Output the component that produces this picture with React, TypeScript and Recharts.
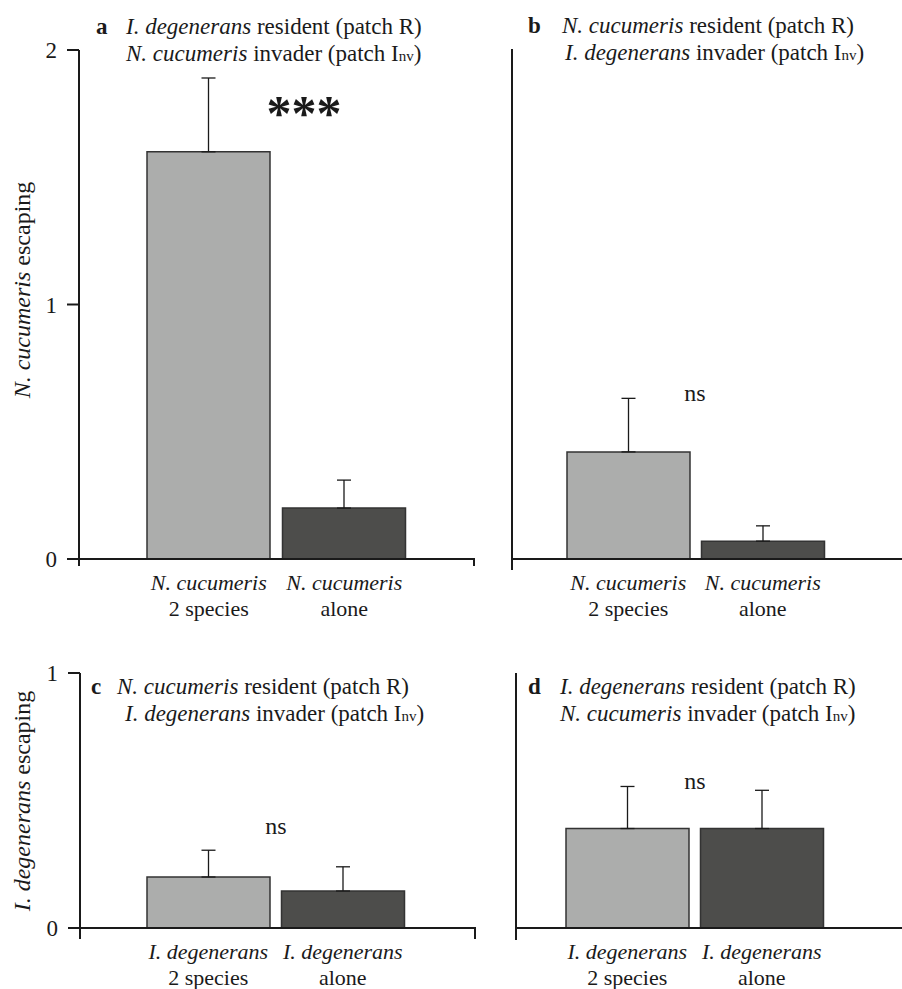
import React from 'react';
import { BarChart, Bar, XAxis, YAxis, Cell, ErrorBar, ReferenceLine } from 'recharts';

const FONT = '"Liberation Serif", "Times New Roman", Times, serif';
const INK = '#1a1a1a';
const BAR_COLORS = ['#acadac', '#4d4d4b'];

// x categories
const groups = ['2 species', 'alone'];
const nCucumeris = ['N. cucumeris', 'N. cucumeris'];
const iDegenerans = ['I. degenerans', 'I. degenerans'];

// means and upper standard errors
const meansA = [1.6, 0.2];
const errA = [0.29, 0.11];
const meansB = [0.42, 0.07];
const errB = [0.21, 0.06];
const meansC = [0.2, 0.145];
const errC = [0.105, 0.095];
const meansD = [0.39, 0.39];
const errD = [0.165, 0.15];

const ticksTop = [0, 1, 2];
const ticksBottom = [0, 1];

type Box = { left: number; top: number; width: number; height: number };

interface PanelCfg {
  box: Box;
  axisX: number;
  topY: number;
  zeroY: number;
  ext: number;
  endX: number;
  endTick: boolean;
  max: number;
  ticks: number[];
  tickLabels: boolean;
  padL: number;
  padR: number;
  species: string[];
  means: number[];
  errs: number[];
  letter: string;
  letterX: number;
  line1: [string, string];
  line2: [string, string];
  line1X: number;
  line2X: number;
  titleY: number;
  yLabel?: [string, string];
  yLabelY?: number;
  note: string;
  noteX: number;
  noteY: number;
  noteBig?: boolean;
}

const panels: PanelCfg[] = [
  {
    box: { left: 0, top: 0, width: 480, height: 640 },
    axisX: 79, topY: 50, zeroY: 559, ext: 7, endX: 474, endTick: true,
    max: 2, ticks: ticksTop, tickLabels: true, padL: 62, padR: 62,
    species: nCucumeris, means: meansA, errs: errA,
    letter: 'a', letterX: 96,
    line1: ['I. degenerans', ' resident (patch R)'],
    line2: ['N. cucumeris', ' invader (patch I'],
    line1X: 126, line2X: 126, titleY: 34,
    yLabel: ['N. cucumeris', ' escaping'], yLabelY: 290,
    note: '***', noteX: 304, noteY: 130, noteBig: true,
  },
  {
    box: { left: 440, top: 0, width: 462, height: 640 },
    axisX: 512, topY: 49, zeroY: 559, ext: 11, endX: 902, endTick: false,
    max: 2, ticks: ticksTop, tickLabels: false, padL: 49, padR: 72,
    species: nCucumeris, means: meansB, errs: errB,
    letter: 'b', letterX: 528,
    line1: ['N. cucumeris', ' resident (patch R)'],
    line2: ['I. degenerans', ' invader (patch I'],
    line1X: 562, line2X: 565, titleY: 33,
    note: 'ns', noteX: 695, noteY: 401,
  },
  {
    box: { left: 0, top: 640, width: 480, height: 349 },
    axisX: 80, topY: 673, zeroY: 928, ext: 11, endX: 475, endTick: true,
    max: 1, ticks: ticksBottom, tickLabels: true, padL: 61, padR: 65,
    species: iDegenerans, means: meansC, errs: errC,
    letter: 'c', letterX: 91,
    line1: ['N. cucumeris', ' resident (patch R)'],
    line2: ['I. degenerans', ' invader (patch I'],
    line1X: 117, line2X: 125, titleY: 694,
    yLabel: ['I. degenerans', ' escaping'], yLabelY: 801,
    note: 'ns', noteX: 276, noteY: 834,
  },
  {
    box: { left: 440, top: 640, width: 462, height: 349 },
    axisX: 516, topY: 673, zeroY: 928, ext: 12, endX: 902, endTick: false,
    max: 1, ticks: ticksBottom, tickLabels: false, padL: 44, padR: 73,
    species: iDegenerans, means: meansD, errs: errD,
    letter: 'd', letterX: 528,
    line1: ['I. degenerans', ' resident (patch R)'],
    line2: ['N. cucumeris', ' invader (patch I'],
    line1X: 560, line2X: 560, titleY: 694,
    note: 'ns', noteX: 695, noteY: 789,
  },
];

const Panel = ({ cfg }: { cfg: PanelCfg }) => {
  const { box } = cfg;
  const pxPerUnit = (cfg.zeroY - cfg.topY) / cfg.max;
  const min = -cfg.ext / pxPerUnit;
  const plotBottom = cfg.zeroY + cfg.ext;
  const xAxisH = box.top + box.height - plotBottom;
  const lx = (x: number) => x - box.left;
  const ly = (y: number) => y - box.top;
  const catBase = ly(cfg.zeroY + 31);

  const data = groups.map((g, i) => ({ group: g, mean: cfg.means[i], err: [0, cfg.errs[i]] }));

  const baseLine = (p: any) => (
    <path
      d={`M${p.x1},${p.y1}H${p.x2}${cfg.endTick ? `v${cfg.ext}` : ''}`}
      stroke={INK}
      strokeWidth={2}
      fill="none"
    />
  );

  const catTick = (p: any) => (
    <g>
      <text x={p.x} y={catBase} textAnchor="middle" fontStyle="italic" fontSize={22} fill={INK} fontFamily={FONT}>
        {cfg.species[p.index]}
      </text>
      <text x={p.x} y={catBase + 26} textAnchor="middle" fontSize={22} fill={INK} fontFamily={FONT}>
        {groups[p.index]}
      </text>
    </g>
  );

  return (
    <div style={{ position: 'absolute', left: box.left, top: box.top, width: box.width, height: box.height }}>
      <BarChart
        width={box.width}
        height={box.height}
        data={data}
        margin={{ top: ly(cfg.topY), right: box.left + box.width - cfg.endX, bottom: 0, left: 0 }}
        style={{ fontFamily: FONT }}
      >
        <XAxis
          dataKey="group"
          height={xAxisH}
          axisLine={false}
          tickLine={false}
          tickSize={0}
          tickMargin={0}
          interval={0}
          padding={{ left: cfg.padL, right: cfg.padR }}
          tick={catTick}
        />
        <YAxis
          width={cfg.axisX - box.left}
          domain={[min, cfg.max]}
          allowDataOverflow
          ticks={cfg.ticks}
          interval={0}
          tickSize={12}
          tickMargin={10}
          axisLine={{ stroke: INK, strokeWidth: 2 }}
          tickLine={{ stroke: INK, strokeWidth: 2 }}
          tick={cfg.tickLabels ? { fill: INK, fontSize: 23, fontFamily: FONT } : false}
        />
        <Bar dataKey="mean" barSize={123} stroke="#333" strokeWidth={1.5} isAnimationActive={false}>
          {data.map((_, i) => (
            <Cell key={`cell-${i}`} fill={BAR_COLORS[i]} />
          ))}
          <ErrorBar dataKey="err" direction="y" width={7} stroke={INK} strokeWidth={1.3} />
        </Bar>
        <ReferenceLine y={0} shape={baseLine} />

        <text x={lx(cfg.letterX)} y={ly(cfg.titleY)} fontSize={23} fontWeight="bold" fill={INK} fontFamily={FONT}>
          {cfg.letter}
        </text>
        <text x={lx(cfg.line1X)} y={ly(cfg.titleY)} fontSize={23} fill={INK} fontFamily={FONT}>
          <tspan fontStyle="italic">{cfg.line1[0]}</tspan>
          <tspan>{cfg.line1[1]}</tspan>
        </text>
        <text x={lx(cfg.line2X)} y={ly(cfg.titleY + 27)} fontSize={23} fill={INK} fontFamily={FONT}>
          <tspan fontStyle="italic">{cfg.line2[0]}</tspan>
          <tspan>{cfg.line2[1]}</tspan>
          <tspan fontSize={15}>nv</tspan>
          <tspan>)</tspan>
        </text>

        {cfg.yLabel && (
          <text
            x={lx(30)}
            y={ly(cfg.yLabelY as number)}
            transform={`rotate(-90 ${lx(30)} ${ly(cfg.yLabelY as number)})`}
            textAnchor="middle"
            fontSize={24}
            fill={INK}
            fontFamily={FONT}
          >
            <tspan fontStyle="italic">{cfg.yLabel[0]}</tspan>
            <tspan>{cfg.yLabel[1]}</tspan>
          </text>
        )}

        <text
          x={lx(cfg.noteX)}
          y={ly(cfg.noteY)}
          textAnchor="middle"
          fontSize={cfg.noteBig ? 50 : 24}
          fontWeight={cfg.noteBig ? 'bold' : 'normal'}
          fill={INK}
          fontFamily={FONT}
        >
          {cfg.note}
        </text>
      </BarChart>
    </div>
  );
};

export default function App() {
  return (
    <div style={{ position: 'absolute', left: 0, top: 0, width: 902, height: 989, background: '#fff', overflow: 'hidden' }}>
      {panels.map((p) => (
        <Panel key={p.letter} cfg={p} />
      ))}
    </div>
  );
}
